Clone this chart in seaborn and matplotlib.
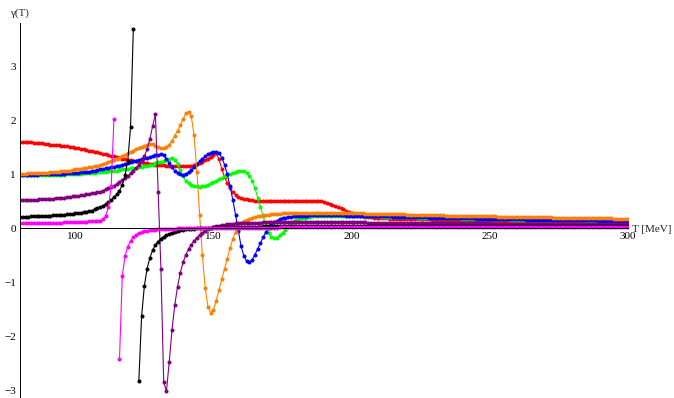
import numpy as np
import pandas as pd
import matplotlib
matplotlib.use("Agg")
import matplotlib.pyplot as plt
import seaborn as sns
from matplotlib.ticker import MultipleLocator

nan = np.nan

# temperature grid in MeV (1 MeV steps from 80 to 300)
temperature = np.arange(80, 301)

gamma_red = [
    1.60, 1.60, 1.59, 1.59, 1.59, 1.58, 1.58, 1.57, 1.57, 1.56,
    1.56, 1.55, 1.55, 1.54, 1.54, 1.53, 1.52, 1.52, 1.51, 1.50,
    1.49, 1.48, 1.47, 1.46, 1.45, 1.44, 1.43, 1.42, 1.41, 1.39,
    1.38, 1.37, 1.36, 1.34, 1.33, 1.32, 1.31, 1.29, 1.28, 1.27,
    1.26, 1.25, 1.24, 1.23, 1.22, 1.21, 1.20, 1.19, 1.19, 1.18,
    1.18, 1.17, 1.17, 1.16, 1.16, 1.16, 1.15, 1.15, 1.15, 1.15,
    1.15, 1.15, 1.16, 1.17, 1.19, 1.21, 1.23, 1.26, 1.29, 1.32,
    1.36, 1.39, 1.28, 1.10, 0.95, 0.84, 0.74, 0.67, 0.62, 0.58,
    0.56, 0.545, 0.535, 0.525, 0.52, 0.515, 0.51, 0.505, 0.50, 0.50,
    0.50, 0.50, 0.50, 0.50, 0.50, 0.50, 0.505, 0.505, 0.51, 0.51,
    0.51, 0.51, 0.51, 0.51, 0.51, 0.51, 0.51, 0.505, 0.50, 0.50,
    0.49, 0.47, 0.45, 0.43, 0.41, 0.39, 0.37, 0.35, 0.33, 0.31,
    0.29, 0.27, 0.25, 0.235, 0.225, 0.215, 0.21, 0.205, 0.20, 0.195,
    0.19, 0.187, 0.185, 0.183, 0.181, 0.179, 0.177, 0.175, 0.174, 0.173,
    0.172, 0.171, 0.170, 0.169, 0.168, 0.167, 0.166, 0.165, 0.164, 0.163,
    0.162, 0.161, 0.160, 0.159, 0.158, 0.157, 0.156, 0.155, 0.154, 0.153,
    0.152, 0.151, 0.150, 0.149, 0.148, 0.147, 0.146, 0.145, 0.144, 0.143,
    0.142, 0.141, 0.140, 0.139, 0.139, 0.138, 0.137, 0.137, 0.136, 0.135,
    0.135, 0.134, 0.133, 0.133, 0.132, 0.131, 0.131, 0.130, 0.129, 0.129,
    0.128, 0.127, 0.127, 0.126, 0.126, 0.125, 0.125, 0.124, 0.124, 0.123,
    0.123, 0.122, 0.122, 0.121, 0.121, 0.120, 0.120, 0.119, 0.119, 0.118,
    0.118, 0.118, 0.117, 0.117, 0.116, 0.116, 0.116, 0.115, 0.115, 0.115,
    0.114,
]

gamma_green = [
    0.98, 0.98, 0.98, 0.98, 0.98, 0.98, 0.98, 0.98, 0.985, 0.985,
    0.985, 0.99, 0.99, 0.99, 0.99, 0.995, 0.995, 1.00, 1.00, 1.00,
    1.01, 1.01, 1.01, 1.02, 1.02, 1.02, 1.03, 1.03, 1.04, 1.04,
    1.05, 1.05, 1.06, 1.06, 1.07, 1.07, 1.08, 1.09, 1.09, 1.10,
    1.11, 1.12, 1.12, 1.13, 1.14, 1.15, 1.16, 1.17, 1.18, 1.20,
    1.22, 1.23, 1.25, 1.27, 1.29, 1.30, 1.27, 1.19, 1.08, 0.96,
    0.87, 0.83, 0.81, 0.79, 0.78, 0.77, 0.78, 0.79, 0.81, 0.83,
    0.86, 0.88, 0.91, 0.93, 0.96, 0.98, 1.00, 1.02, 1.04, 1.055,
    1.06, 1.055, 1.03, 0.97, 0.88, 0.75, 0.57, 0.39, 0.22, 0.05,
    -0.09, -0.16, -0.18, -0.17, -0.13, -0.08, -0.03, 0.03, 0.09, 0.13,
    0.16, 0.18, 0.19, 0.20, 0.21, 0.215, 0.22, 0.222, 0.225, 0.227,
    0.229, 0.230, 0.231, 0.232, 0.232, 0.232, 0.232, 0.232, 0.231, 0.231,
    0.230, 0.229, 0.228, 0.227, 0.226, 0.225, 0.224, 0.223, 0.222, 0.221,
    0.220, 0.218, 0.217, 0.215, 0.214, 0.212, 0.211, 0.210, 0.208, 0.207,
    0.205, 0.204, 0.203, 0.201, 0.200, 0.199, 0.197, 0.196, 0.195, 0.194,
    0.192, 0.191, 0.190, 0.189, 0.188, 0.186, 0.185, 0.184, 0.183, 0.182,
    0.181, 0.180, 0.179, 0.178, 0.177, 0.176, 0.175, 0.174, 0.173, 0.172,
    0.171, 0.170, 0.169, 0.168, 0.167, 0.166, 0.165, 0.164, 0.163, 0.162,
    0.162, 0.161, 0.160, 0.159, 0.158, 0.158, 0.157, 0.156, 0.155, 0.155,
    0.154, 0.153, 0.152, 0.152, 0.151, 0.150, 0.150, 0.149, 0.148, 0.148,
    0.147, 0.146, 0.146, 0.145, 0.145, 0.144, 0.143, 0.143, 0.142, 0.142,
    0.141, 0.141, 0.140, 0.140, 0.139, 0.139, 0.138, 0.138, 0.137, 0.137,
    0.136,
]

gamma_blue = [
    0.99, 0.99, 0.99, 0.99, 0.99, 0.99, 0.99, 1.00, 1.00, 1.00,
    1.00, 1.00, 1.00, 1.01, 1.01, 1.01, 1.01, 1.02, 1.02, 1.02,
    1.03, 1.03, 1.04, 1.04, 1.05, 1.05, 1.06, 1.07, 1.08, 1.09,
    1.10, 1.11, 1.12, 1.13, 1.14, 1.15, 1.16, 1.18, 1.19, 1.21,
    1.22, 1.24, 1.25, 1.27, 1.28, 1.30, 1.31, 1.32, 1.34, 1.35,
    1.36, 1.37, 1.35, 1.29, 1.21, 1.13, 1.06, 1.02, 1.00, 0.995,
    1.01, 1.04, 1.08, 1.13, 1.19, 1.24, 1.29, 1.33, 1.37, 1.40,
    1.42, 1.42, 1.39, 1.31, 1.18, 1.00, 0.78, 0.53, 0.25, -0.05,
    -0.33, -0.51, -0.61, -0.63, -0.58, -0.49, -0.38, -0.27, -0.16, -0.07,
    0.01, 0.07, 0.11, 0.14, 0.17, 0.19, 0.20, 0.21, 0.215, 0.22,
    0.225, 0.228, 0.231, 0.234, 0.236, 0.238, 0.239, 0.240, 0.241, 0.242,
    0.242, 0.242, 0.242, 0.242, 0.241, 0.240, 0.239, 0.238, 0.237, 0.236,
    0.235, 0.234, 0.233, 0.232, 0.231, 0.230, 0.229, 0.228, 0.227, 0.226,
    0.225, 0.223, 0.222, 0.220, 0.219, 0.217, 0.216, 0.215, 0.213, 0.212,
    0.210, 0.209, 0.208, 0.206, 0.205, 0.204, 0.202, 0.201, 0.200, 0.199,
    0.197, 0.196, 0.195, 0.194, 0.193, 0.191, 0.190, 0.189, 0.188, 0.187,
    0.186, 0.185, 0.184, 0.183, 0.182, 0.181, 0.180, 0.179, 0.178, 0.177,
    0.176, 0.175, 0.174, 0.173, 0.172, 0.171, 0.170, 0.169, 0.168, 0.167,
    0.166, 0.165, 0.164, 0.163, 0.163, 0.162, 0.161, 0.160, 0.159, 0.158,
    0.158, 0.157, 0.156, 0.155, 0.154, 0.154, 0.153, 0.152, 0.151, 0.151,
    0.150, 0.149, 0.149, 0.148, 0.147, 0.147, 0.146, 0.145, 0.145, 0.144,
    0.144, 0.143, 0.142, 0.142, 0.141, 0.141, 0.140, 0.140, 0.139, 0.139,
    0.138,
]

gamma_orange = [
    1.01, 1.01, 1.01, 1.02, 1.02, 1.02, 1.02, 1.03, 1.03, 1.03,
    1.03, 1.04, 1.04, 1.05, 1.05, 1.06, 1.06, 1.07, 1.07, 1.08,
    1.09, 1.09, 1.10, 1.11, 1.12, 1.13, 1.14, 1.15, 1.16, 1.17,
    1.19, 1.21, 1.23, 1.25, 1.27, 1.29, 1.31, 1.34, 1.36, 1.39,
    1.42, 1.44, 1.47, 1.49, 1.51, 1.53, 1.55, 1.56, 1.555, 1.53,
    1.50, 1.48, 1.48, 1.51, 1.55, 1.62, 1.71, 1.81, 1.91, 2.02,
    2.13, 2.16, 2.07, 1.72, 1.05, 0.25, -0.50, -1.10, -1.45, -1.56,
    -1.51, -1.34, -1.14, -0.94, -0.75, -0.56, -0.37, -0.20, -0.06, 0.03,
    0.09, 0.13, 0.16, 0.18, 0.20, 0.21, 0.22, 0.23, 0.24, 0.25,
    0.255, 0.26, 0.265, 0.27, 0.27, 0.275, 0.275, 0.28, 0.28, 0.28,
    0.28, 0.28, 0.285, 0.285, 0.285, 0.285, 0.285, 0.285, 0.285, 0.285,
    0.285, 0.285, 0.285, 0.285, 0.285, 0.285, 0.283, 0.282, 0.281, 0.280,
    0.279, 0.278, 0.277, 0.276, 0.275, 0.274, 0.273, 0.272, 0.271, 0.270,
    0.268, 0.267, 0.265, 0.264, 0.262, 0.261, 0.259, 0.258, 0.257, 0.256,
    0.254, 0.253, 0.252, 0.250, 0.249, 0.248, 0.247, 0.245, 0.244, 0.243,
    0.242, 0.241, 0.240, 0.238, 0.237, 0.236, 0.235, 0.234, 0.233, 0.232,
    0.231, 0.230, 0.229, 0.228, 0.227, 0.226, 0.225, 0.224, 0.223, 0.222,
    0.221, 0.220, 0.219, 0.218, 0.217, 0.216, 0.215, 0.214, 0.213, 0.213,
    0.212, 0.211, 0.210, 0.209, 0.208, 0.207, 0.206, 0.205, 0.205, 0.204,
    0.203, 0.202, 0.201, 0.200, 0.199, 0.199, 0.198, 0.197, 0.196, 0.195,
    0.194, 0.193, 0.192, 0.191, 0.190, 0.189, 0.189, 0.188, 0.187, 0.186,
    0.185, 0.184, 0.183, 0.183, 0.182, 0.181, 0.180, 0.179, 0.178, 0.177,
    0.176,
]

gamma_purple = [
    0.52, 0.52, 0.52, 0.53, 0.53, 0.53, 0.53, 0.54, 0.54, 0.54,
    0.55, 0.55, 0.55, 0.56, 0.56, 0.57, 0.57, 0.58, 0.58, 0.59,
    0.60, 0.60, 0.61, 0.62, 0.63, 0.64, 0.65, 0.66, 0.67, 0.68,
    0.70, 0.72, 0.74, 0.76, 0.79, 0.82, 0.85, 0.89, 0.93, 0.97,
    1.02, 1.07, 1.12, 1.18, 1.25, 1.34, 1.46, 1.66, 1.89, 2.11,
    0.67, -0.76, -2.85, -3.01, -2.47, -1.88, -1.42, -1.08, -0.82, -0.63,
    -0.49, -0.38, -0.30, -0.23, -0.17, -0.12, -0.08, -0.045, -0.02, 0.00,
    0.02, 0.035, 0.05, 0.06, 0.07, 0.075, 0.08, 0.085, 0.09, 0.092,
    0.095, 0.097, 0.099, 0.101, 0.103, 0.105, 0.106, 0.107, 0.108, 0.109,
    0.110, 0.111, 0.112, 0.112, 0.113, 0.113, 0.114, 0.114, 0.115, 0.115,
    0.115, 0.115, 0.115, 0.115, 0.115, 0.115, 0.115, 0.115, 0.115, 0.115,
    0.115, 0.114, 0.114, 0.114, 0.113, 0.113, 0.112, 0.112, 0.111, 0.111,
    0.110, 0.110, 0.109, 0.109, 0.108, 0.108, 0.107, 0.107, 0.106, 0.106,
    0.105, 0.105, 0.104, 0.104, 0.103, 0.103, 0.102, 0.102, 0.101, 0.101,
    0.100, 0.100, 0.099, 0.099, 0.099, 0.098, 0.098, 0.097, 0.097, 0.097,
    0.096, 0.096, 0.096, 0.095, 0.095, 0.094, 0.094, 0.094, 0.093, 0.093,
    0.093, 0.092, 0.092, 0.092, 0.091, 0.091, 0.091, 0.090, 0.090, 0.090,
    0.090, 0.089, 0.089, 0.089, 0.088, 0.088, 0.088, 0.087, 0.087, 0.087,
    0.087, 0.086, 0.086, 0.086, 0.086, 0.085, 0.085, 0.085, 0.085, 0.084,
    0.084, 0.084, 0.084, 0.083, 0.083, 0.083, 0.083, 0.082, 0.082, 0.082,
    0.082, 0.082, 0.081, 0.081, 0.081, 0.081, 0.080, 0.080, 0.080, 0.080,
    0.080, 0.079, 0.079, 0.079, 0.079, 0.079, 0.078, 0.078, 0.078, 0.078,
    0.078,
]

gamma_black = [
    0.21, 0.21, 0.21, 0.21, 0.22, 0.22, 0.22, 0.22, 0.22, 0.23,
    0.23, 0.23, 0.24, 0.24, 0.24, 0.25, 0.25, 0.26, 0.26, 0.27,
    0.28, 0.28, 0.29, 0.30, 0.31, 0.32, 0.33, 0.35, 0.37, 0.39,
    0.42, 0.45, 0.48, 0.53, 0.58, 0.63, 0.70, 0.80, 0.98, 1.25,
    1.87, 3.69, nan, -2.82, -1.63, -1.065, -0.744, -0.546, -0.404, -0.306,
    -0.244, -0.19, -0.155, -0.125, -0.10, -0.08, -0.065, -0.05, -0.04, -0.03,
    -0.02, -0.015, -0.01, -0.005, 0.0, 0.004, 0.007, 0.01, 0.012, 0.014,
    0.016, 0.018, 0.019, 0.021, 0.022, 0.023, 0.024, 0.025, 0.026, 0.027,
    0.028, 0.029, 0.030, 0.030, 0.031, 0.032, 0.032, 0.033, 0.034, 0.034,
    0.035, 0.035, 0.036, 0.036, 0.037, 0.037, 0.038, 0.038, 0.039, 0.039,
    0.040, 0.040, 0.040, 0.041, 0.041, 0.041, 0.042, 0.042, 0.042, 0.043,
    0.043, 0.043, 0.044, 0.044, 0.044, 0.044, 0.045, 0.045, 0.045, 0.045,
    0.046, 0.046, 0.046, 0.046, 0.047, 0.047, 0.047, 0.047, 0.047, 0.047,
    0.048, 0.048, 0.048, 0.048, 0.048, 0.048, 0.048, 0.048, 0.048, 0.048,
    0.048, 0.048, 0.048, 0.048, 0.048, 0.048, 0.048, 0.048, 0.048, 0.048,
    0.048, 0.048, 0.048, 0.048, 0.048, 0.048, 0.048, 0.048, 0.048, 0.048,
    0.048, 0.048, 0.048, 0.048, 0.048, 0.048, 0.048, 0.048, 0.048, 0.048,
    0.048, 0.048, 0.048, 0.048, 0.048, 0.048, 0.048, 0.048, 0.048, 0.048,
    0.047, 0.047, 0.047, 0.047, 0.047, 0.047, 0.047, 0.047, 0.047, 0.047,
    0.047, 0.047, 0.047, 0.047, 0.047, 0.047, 0.047, 0.047, 0.047, 0.047,
    0.046, 0.046, 0.046, 0.046, 0.046, 0.046, 0.046, 0.046, 0.046, 0.046,
    0.046, 0.046, 0.046, 0.046, 0.046, 0.046, 0.046, 0.046, 0.046, 0.046,
    0.046,
]

gamma_magenta = [
    0.09, 0.09, 0.09, 0.09, 0.095, 0.095, 0.095, 0.095, 0.10, 0.10,
    0.10, 0.10, 0.10, 0.105, 0.105, 0.105, 0.11, 0.11, 0.11, 0.115,
    0.115, 0.12, 0.12, 0.125, 0.125, 0.13, 0.13, 0.135, 0.14, 0.14,
    0.17, 0.22, 0.40, 0.79, 2.03, nan, -2.42, -0.885, -0.515, -0.337,
    -0.237, -0.163, -0.12, -0.09, -0.07, -0.055, -0.045, -0.037, -0.03, -0.025,
    -0.02, -0.016, -0.013, -0.01, -0.008, -0.006, -0.004, -0.003, -0.002, -0.001,
    0.0, 0.001, 0.002, 0.003, 0.004, 0.005, 0.005, 0.006, 0.006, 0.007,
    0.007, 0.008, 0.008, 0.009, 0.009, 0.010, 0.010, 0.010, 0.011, 0.011,
    0.011, 0.012, 0.012, 0.012, 0.013, 0.013, 0.013, 0.014, 0.014, 0.014,
    0.015, 0.015, 0.015, 0.015, 0.016, 0.016, 0.016, 0.016, 0.017, 0.017,
    0.017, 0.017, 0.018, 0.018, 0.018, 0.018, 0.018, 0.019, 0.019, 0.019,
    0.019, 0.019, 0.020, 0.020, 0.020, 0.020, 0.020, 0.021, 0.021, 0.021,
    0.021, 0.021, 0.021, 0.022, 0.022, 0.022, 0.022, 0.022, 0.022, 0.023,
    0.023, 0.023, 0.023, 0.023, 0.023, 0.024, 0.024, 0.024, 0.024, 0.024,
    0.024, 0.024, 0.025, 0.025, 0.025, 0.025, 0.025, 0.025, 0.025, 0.025,
    0.026, 0.026, 0.026, 0.026, 0.026, 0.026, 0.026, 0.026, 0.026, 0.027,
    0.027, 0.027, 0.027, 0.027, 0.027, 0.027, 0.027, 0.027, 0.027, 0.027,
    0.027, 0.027, 0.027, 0.028, 0.028, 0.028, 0.028, 0.028, 0.028, 0.028,
    0.028, 0.028, 0.028, 0.029, 0.029, 0.029, 0.029, 0.029, 0.029, 0.029,
    0.029, 0.029, 0.029, 0.029, 0.030, 0.030, 0.030, 0.030, 0.030, 0.030,
    0.030, 0.030, 0.030, 0.030, 0.030, 0.030, 0.030, 0.030, 0.030, 0.030,
    0.030, 0.030, 0.031, 0.031, 0.031, 0.031, 0.031, 0.031, 0.031, 0.031,
    0.031,
]

# drawing order: later series sit on top
curves = [
    ("red", gamma_red, (1.0, 0.0, 0.0)),
    ("green", gamma_green, (0.0, 1.0, 0.0)),
    ("blue", gamma_blue, (0.0, 0.0, 1.0)),
    ("orange", gamma_orange, (1.0, 0.5, 0.0)),
    ("purple", gamma_purple, (0.5, 0.0, 0.5)),
    ("black", gamma_black, (0.0, 0.0, 0.0)),
    ("magenta", gamma_magenta, (1.0, 0.0, 1.0)),
]

sns.set_style("white")
plt.rcParams["font.family"] = ["Liberation Serif", "DejaVu Serif"]
plt.rcParams["axes.unicode_minus"] = True

fig = plt.figure(figsize=(6.74, 3.98), dpi=100)
ax = fig.add_axes([20 / 674, 0.0, 608 / 674, 375 / 398])

for name, values, color in curves:
    df = pd.DataFrame({"T": temperature, "gamma": values})
    valid = df["gamma"].notna()
    branch = (~valid).cumsum()
    for _, part in df[valid].groupby(branch[valid]):
        sns.lineplot(
            data=part, x="T", y="gamma", color=color,
            marker="o", markersize=2.9, markeredgewidth=0,
            linewidth=0.8, estimator=None, sort=False, ax=ax,
        )

ax.set_xlim(80, 300)
ax.set_ylim(-3.14, 3.80)
ax.set_xlabel("")
ax.set_ylabel("")

for side in ("top", "right"):
    ax.spines[side].set_visible(False)
ax.spines["bottom"].set_position(("data", 0))
for side in ("left", "bottom"):
    ax.spines[side].set_color("black")
    ax.spines[side].set_linewidth(0.7)

ax.xaxis.set_major_locator(MultipleLocator(50))
ax.xaxis.set_minor_locator(MultipleLocator(10))
ax.yaxis.set_major_locator(MultipleLocator(1))
ax.yaxis.set_minor_locator(MultipleLocator(0.2))
ax.tick_params(which="major", direction="in", length=4, width=0.6,
               labelsize=8, pad=3, colors="black")
ax.tick_params(which="minor", direction="in", length=2, width=0.5)

fig.text(19 / 674, 1 - 13 / 398, "γ(T)", ha="center", va="center", fontsize=8)
fig.text(632 / 674, 1 - 229 / 398, "T [MeV]", ha="left", va="center", fontsize=8)

fig.savefig("out.png", dpi=100)
